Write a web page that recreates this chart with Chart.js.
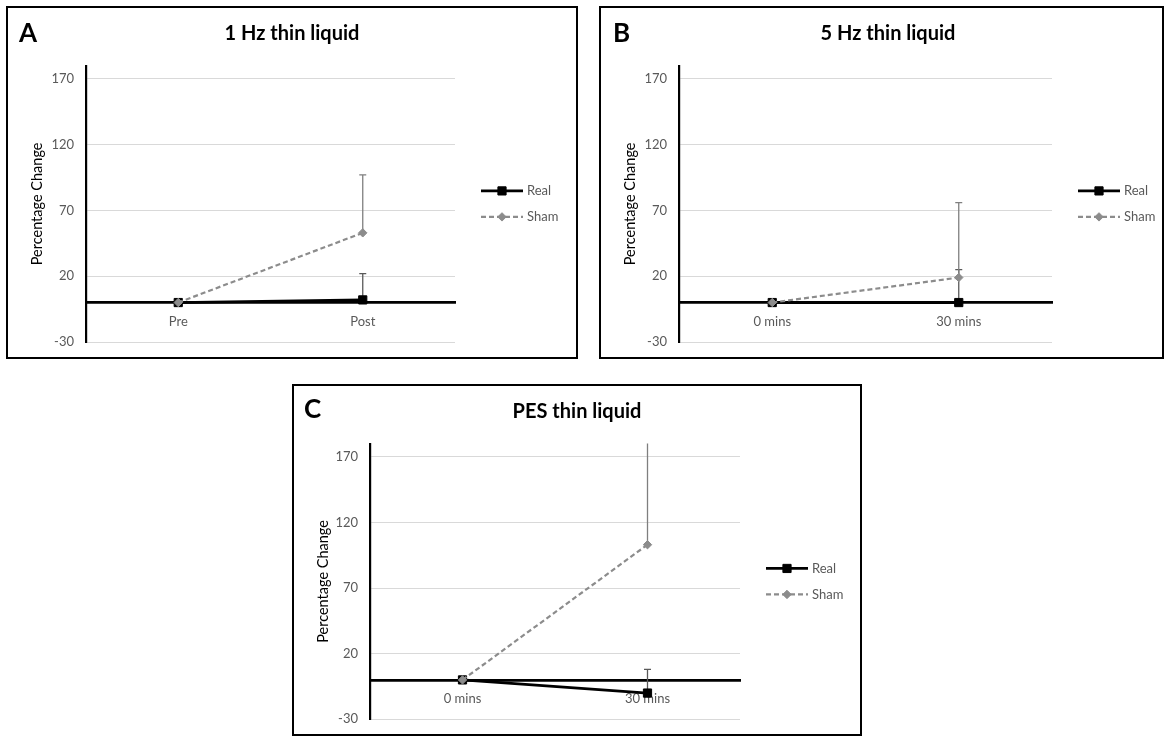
<!DOCTYPE html>
<html>
<head>
<meta charset="utf-8">
<script src="https://cdn.jsdelivr.net/npm/chart.js@4"></script>
<style>
  html, body { margin: 0; padding: 0; background: #fff; }
  body { width: 1165px; height: 736px; position: relative; overflow: hidden; }
  .panel { position: absolute; box-sizing: border-box; border: 2px solid #000; background: #fff; }
  .panel canvas { position: absolute; left: 0; top: 0; }
</style>
</head>
<body>
<div class="panel" id="pA" style="left:6px;top:6px;width:572px;height:353px;"><canvas id="cA" width="568" height="364"></canvas></div>
<div class="panel" id="pB" style="left:599px;top:6px;width:565px;height:353px;"><canvas id="cB" width="561" height="364"></canvas></div>
<div class="panel" id="pC" style="left:292px;top:384px;width:570px;height:352px;"><canvas id="cC" width="566" height="363"></canvas></div>
<script>
// ---- data ----
const yTicks = [-30, 20, 70, 120, 170];
const yMin = -30;
const yMax = 180;
const seriesNames = ['Real', 'Sham'];

const titleA = '1 Hz thin liquid';
const categoriesA = ['Pre', 'Post'];
const realA = [0, 2];
const realErrA = [0, 20];
const shamA = [0, 53];
const shamErrA = [0, 44];

const titleB = '5 Hz thin liquid';
const categoriesB = ['0 mins', '30 mins'];
const realB = [0, 0];
const realErrB = [0, 25];
const shamB = [0, 19];
const shamErrB = [0, 57];

const titleC = 'PES thin liquid';
const categoriesC = ['0 mins', '30 mins'];
const realC = [0, -10];
const realErrC = [0, 18];
const shamC = [0, 103];
const shamErrC = [0, 85];

// ---- styling ----
const FONT = 'Lato, "Open Sans", sans-serif';
const GREY_TXT = '#595959';
const SHAM_COL = '#8c8c8c';

const errorBarPlugin = {
  id: 'errorBars',
  beforeDatasetsDraw(chart) {
    const ctx = chart.ctx;
    const ys = chart.scales.y;
    const area = chart.chartArea;
    ctx.save();
    ctx.beginPath();
    ctx.rect(area.left, area.top, area.right - area.left, area.bottom - area.top);
    ctx.clip();
    chart.data.datasets.forEach((ds, i) => {
      const meta = chart.getDatasetMeta(i);
      if (!ds.errPlus) return;
      meta.data.forEach((pt, j) => {
        const e = ds.errPlus[j];
        if (!e) return;
        const x = pt.x;
        const y0 = ys.getPixelForValue(ds.data[j]);
        const y1 = ys.getPixelForValue(ds.data[j] + e);
        ctx.strokeStyle = ds.errColor;
        ctx.lineWidth = 1.3;
        ctx.setLineDash([]);
        ctx.beginPath();
        ctx.moveTo(x, y0);
        ctx.lineTo(x, y1);
        ctx.moveTo(x - 3.5, y1);
        ctx.lineTo(x + 3.5, y1);
        ctx.stroke();
      });
    });
    ctx.restore();
  }
};

const legendPlugin = {
  id: 'sideLegend',
  afterDraw(chart) {
    const ctx = chart.ctx;
    const area = chart.chartArea;
    const x0 = area.right + 26;
    const cy = (area.top + area.bottom) / 2;
    ctx.save();
    [0, 1].forEach((i, k) => {
      const ds = chart.data.datasets[i];
      const y = cy - 13 + k * 26;
      ctx.strokeStyle = ds.borderColor;
      ctx.lineWidth = ds.borderWidth;
      ctx.setLineDash(ds.borderDash || []);
      ctx.beginPath();
      ctx.moveTo(x0, y);
      ctx.lineTo(x0 + 42, y);
      ctx.stroke();
      ctx.setLineDash([]);
      ctx.fillStyle = ds.pointBackgroundColor;
      ctx.strokeStyle = ds.pointBorderColor;
      ctx.lineWidth = 1;
      ctx.beginPath();
      const r = ds.pointRadius;
      const cx = x0 + 21;
      if (ds.pointStyle === 'rect') {
        const s = r * Math.SQRT1_2;
        ctx.rect(cx - s, y - s, 2 * s, 2 * s);
      } else {
        ctx.moveTo(cx, y - r);
        ctx.lineTo(cx + r, y);
        ctx.lineTo(cx, y + r);
        ctx.lineTo(cx - r, y);
        ctx.closePath();
      }
      ctx.fill();
      ctx.stroke();
      ctx.fillStyle = GREY_TXT;
      ctx.font = '13px ' + FONT;
      ctx.textBaseline = 'middle';
      ctx.textAlign = 'left';
      ctx.fillText(ds.label, x0 + 46, y);
    });
    ctx.restore();
  }
};

const headerPlugin = {
  id: 'panelHeader',
  afterDraw(chart, args, opts) {
    const ctx = chart.ctx;
    ctx.save();
    ctx.fillStyle = '#000';
    ctx.textBaseline = 'alphabetic';
    ctx.font = 'bold 26px ' + FONT;
    ctx.textAlign = 'left';
    ctx.fillText(opts.letter, opts.letterX, opts.letterY);
    ctx.font = 'bold 20px ' + FONT;
    ctx.textAlign = 'center';
    ctx.fillText(opts.title, opts.titleX, opts.titleY);
    ctx.restore();
  }
};

function makeChart(canvasId, header, cats, real, realErr, sham, shamErr, geo) {
  return new Chart(document.getElementById(canvasId), {
    type: 'line',
    data: {
      labels: cats,
      datasets: [
        {
          label: seriesNames[0], data: real, errPlus: realErr, errColor: '#595959',
          borderColor: '#000', borderWidth: 2.75, pointStyle: 'rect', pointRadius: 5.8,
          pointBackgroundColor: '#000', pointBorderColor: '#000', pointBorderWidth: 1,
          tension: 0, order: 2
        },
        {
          label: seriesNames[1], data: sham, errPlus: shamErr, errColor: '#7f7f7f',
          borderColor: SHAM_COL, borderWidth: 2.2, borderDash: [5, 3], pointStyle: 'rectRot', pointRadius: 4.2,
          pointBackgroundColor: SHAM_COL, pointBorderColor: SHAM_COL, pointBorderWidth: 1,
          tension: 0, order: 1
        }
      ]
    },
    options: {
      responsive: false,
      animation: false,
      devicePixelRatio: 1,
      layout: { padding: { left: 0, top: geo.top, right: geo.right, bottom: geo.bottom } },
      plugins: {
        legend: { display: false },
        tooltip: { enabled: false },
        title: { display: false },
        panelHeader: header
      },
      scales: {
        x: {
          type: 'category',
          position: { y: 0 },
          offset: true,
          grid: { color: 'rgba(0,0,0,0)', drawTicks: false },
          border: { display: true, color: '#000', width: 2.75 },
          ticks: { color: GREY_TXT, font: { family: FONT, size: 13 }, padding: 11 }
        },
        y: {
          type: 'linear',
          min: yMin, max: yMax,
          afterBuildTicks(scale) { scale.ticks = yTicks.map(v => ({ value: v })); },
          afterFit(scale) { scale.width = geo.left; },
          grid: { color: '#d9d9d9', lineWidth: 1, drawTicks: false },
          border: { display: true, color: '#000', width: 2.2 },
          ticks: { color: GREY_TXT, font: { family: FONT, size: 13 }, padding: 12 },
          title: {
            display: true, text: 'Percentage Change', color: '#000',
            font: { family: FONT, size: 14.5 }, padding: { top: 21, bottom: 0 }
          }
        }
      }
    },
    plugins: [errorBarPlugin, legendPlugin, headerPlugin]
  });
}

makeChart('cA', { letter: 'A', letterX: 11, letterY: 34, title: titleA, titleX: 284, titleY: 32 },
  categoriesA, realA, realErrA, shamA, shamErrA,
  { left: 78, top: 57.8, right: 121, bottom: 30 });
makeChart('cB', { letter: 'B', letterX: 12, letterY: 34, title: titleB, titleX: 287, titleY: 32 },
  categoriesB, realB, realErrB, shamB, shamErrB,
  { left: 78, top: 57.8, right: 110, bottom: 30 });
makeChart('cC', { letter: 'C', letterX: 10, letterY: 32, title: titleC, titleX: 283, titleY: 32 },
  categoriesC, realC, realErrC, shamC, shamErrC,
  { left: 76, top: 57.6, right: 120, bottom: 29.7 });
</script>
</body>
</html>
